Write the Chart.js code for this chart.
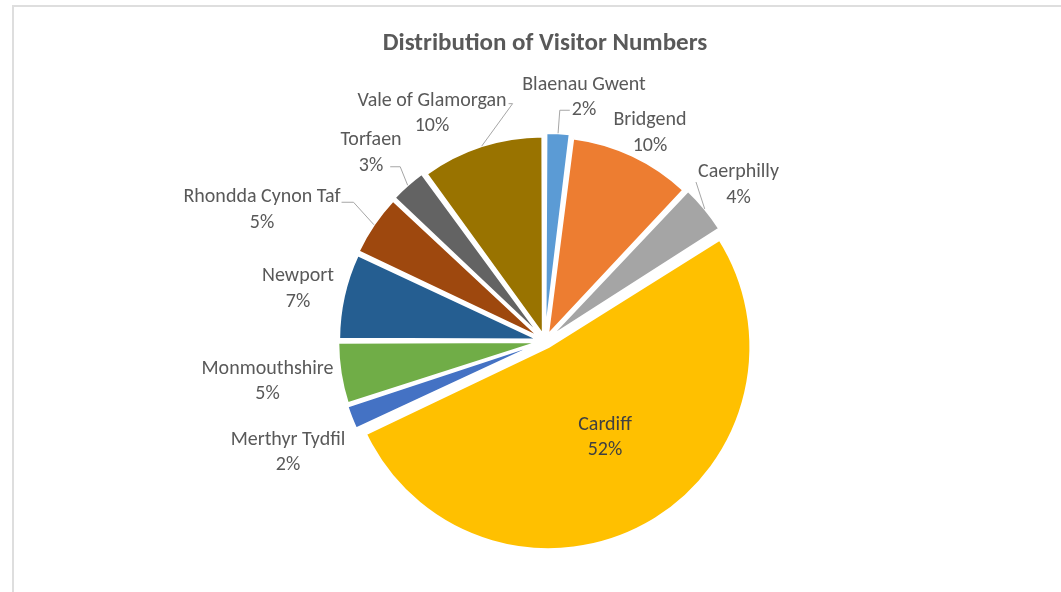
<!DOCTYPE html>
<html>
<head>
<meta charset="utf-8">
<script src="https://cdn.jsdelivr.net/npm/chart.js@4.4.1/dist/chart.umd.min.js"></script>
<style>
  html, body { margin: 0; padding: 0; background: #fff; }
  canvas { display: block; }
</style>
</head>
<body>
<canvas id="c" width="1061" height="592"></canvas>
<script>
// ---- data ----
const categories = ["Blaenau Gwent", "Bridgend", "Caerphilly", "Cardiff", "Merthyr Tydfil",
                    "Monmouthshire", "Newport", "Rhondda Cynon Taf", "Torfaen", "Vale of Glamorgan"];
const visitorShare = [2, 10, 4, 52, 2, 5, 7, 5, 3, 10];
const chartTitle = "Distribution of Visitor Numbers";

// ---- styles ----
const sliceColors = ["#5B9BD5", "#ED7D31", "#A5A5A5", "#FFC000", "#4472C4",
                     "#70AD47", "#255E91", "#9E480E", "#636363", "#997300"];
const FONT = "Carlito, Lato, 'Open Sans', sans-serif";
const LABEL_SIZE = 20;
const LINE_GAP = 25.5;
// label block centre, px offset from the pie centre
const labelOffsets = [
  [39, -243.5], [105, -208], [193.5, -156], [60, 96.5], [-257, 111.5],
  [-277.5, 40.5], [-247, -52], [-283, -131], [-174, -188], [-113, -227.6]
];
const labelColors = ["#595959","#595959","#595959","#404040","#595959",
                     "#595959","#595959","#595959","#595959","#595959"];
// leader lines: line index (-1 = block middle), side, gap, elbow length, dy
const leaders = [
  {line: 1, side: "left", gap: 2, elbow: 10, dy: 0},
  null,
  {line: -1, side: "left", gap: 2, elbow: 0, dy: -3},
  null, null, null, null,
  {line: 0, side: "right", gap: 1, elbow: 12, dy: 5},
  {line: 1, side: "right", gap: 7, elbow: 10, dy: 1},
  {line: 0, side: "right", gap: 2, elbow: 4, dy: 3}
];

const framePlugin = {
  id: "frame",
  beforeDraw(chart) {
    const ctx = chart.ctx;
    ctx.save();
    ctx.fillStyle = "#ffffff";
    ctx.fillRect(0, 0, chart.width, chart.height);
    ctx.strokeStyle = "#dedede";
    ctx.lineWidth = 2;
    ctx.beginPath();
    ctx.moveTo(chart.width, 6);
    ctx.lineTo(13, 6);
    ctx.lineTo(13, chart.height);
    ctx.stroke();
    ctx.restore();
  }
};

const labelPlugin = {
  id: "sliceLabels",
  afterDatasetsDraw(chart) {
    const ctx = chart.ctx;
    const meta = chart.getDatasetMeta(0);
    const total = visitorShare.reduce((a, b) => a + b, 0);
    ctx.save();
    ctx.font = LABEL_SIZE + "px " + FONT;
    ctx.textAlign = "center";
    ctx.textBaseline = "middle";
    meta.data.forEach((arc, i) => {
      const p = arc.getProps(["x", "y", "startAngle", "endAngle", "outerRadius"], true);
      const lines = [categories[i], Math.round(visitorShare[i] / total * 100) + "%"];
      const cx = p.x + labelOffsets[i][0];
      const cy = p.y + labelOffsets[i][1];
      const ys = [cy - LINE_GAP / 2, cy + LINE_GAP / 2];
      ctx.fillStyle = labelColors[i];
      lines.forEach((t, k) => ctx.fillText(t, cx, ys[k]));

      const L = leaders[i];
      if (L) {
        const mid = (p.startAngle + p.endAngle) / 2;
        const off = (arc.options.offset || 0) / 4;
        const circ = p.endAngle - p.startAngle;
        const fix = 1 - Math.sin(Math.min(Math.PI, circ));
        const r = p.outerRadius + off + off * fix;
        const sx = p.x + Math.cos(mid) * r;
        const sy = p.y + Math.sin(mid) * r;
        let w, ay;
        if (L.line < 0) {
          w = Math.max(...lines.map(t => ctx.measureText(t).width));
          ay = cy + L.dy;
        } else {
          w = ctx.measureText(lines[L.line]).width;
          ay = ys[L.line] + L.dy;
        }
        const ax = L.side === "left" ? cx - w / 2 - L.gap : cx + w / 2 + L.gap;
        const ex = L.side === "left" ? ax - L.elbow : ax + L.elbow;
        ctx.strokeStyle = "#a6a6a6";
        ctx.lineWidth = 1;
        ctx.beginPath();
        ctx.moveTo(sx, sy);
        ctx.lineTo(ex, ay);
        ctx.lineTo(ax, ay);
        ctx.stroke();
      }
    });
    ctx.restore();
  }
};

new Chart(document.getElementById("c"), {
  type: "pie",
  data: {
    labels: categories,
    datasets: [{
      data: visitorShare,
      backgroundColor: sliceColors,
      borderColor: "#ffffff",
      borderWidth: 2,
      offset: 28,
      radius: 195
    }]
  },
  options: {
    responsive: false,
    animation: false,
    layout: { padding: { left: 29, right: 0, top: 0, bottom: 0 } },
    plugins: {
      legend: { display: false },
      tooltip: { enabled: false },
      title: {
        display: true,
        text: chartTitle,
        color: "#595959",
        font: { family: FONT, size: 25, weight: "bold", lineHeight: 1.2 },
        padding: { top: 29, bottom: 31 }
      }
    }
  },
  plugins: [framePlugin, labelPlugin]
});
</script>
</body>
</html>
